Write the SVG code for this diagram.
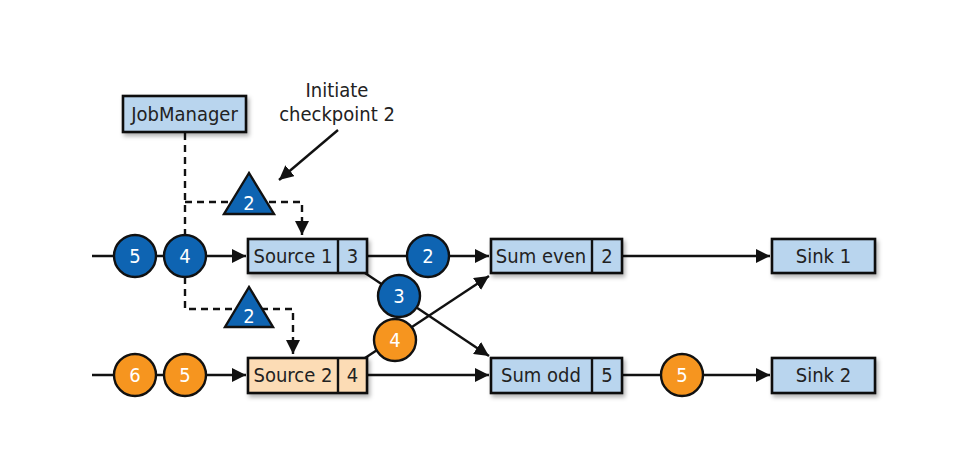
<svg xmlns="http://www.w3.org/2000/svg" width="962" height="457" viewBox="0 0 962 457">
<style>
.box{stroke:#111;stroke-width:2.6}
.blue{fill:#b9d5ee}
.peach{fill:#fcdcb5}
.t{font-family:"DejaVu Sans Condensed","Liberation Sans",sans-serif;font-size:20px;fill:#222;text-anchor:middle}
.ct{font-family:"DejaVu Sans Condensed","Liberation Sans",sans-serif;font-size:20px;fill:#fff;text-anchor:middle}
.cb{fill:#0e64b2;stroke:#111;stroke-width:2.4}
.co{fill:#f6951f;stroke:#111;stroke-width:2.4}
.ln{stroke:#111;stroke-width:2.4;fill:none}
.dash{stroke:#111;stroke-width:2.4;fill:none;stroke-dasharray:7 5}
</style>
<defs>
<marker id="ah" viewBox="0 0 10 10" refX="10" refY="5" markerWidth="6" markerHeight="6" markerUnits="strokeWidth" orient="auto">
<path d="M0,0 L10,5 L0,10 Z" fill="#111"/>
</marker>
<filter id="sh" x="-10%" y="-20%" width="125%" height="150%">
<feDropShadow dx="2" dy="3" stdDeviation="2" flood-color="#000" flood-opacity="0.3"/>
</filter>
</defs>
<rect width="962" height="457" fill="#fff"/>

<g id="connectors">
<path class="dash" d="M185,133 V309 H293 V354" marker-end="url(#ah)"/>
<path class="dash" d="M185,202 H302 V235" marker-end="url(#ah)"/>
<line class="ln" x1="338" y1="130" x2="279" y2="180" marker-end="url(#ah)"/>
<line class="ln" x1="92" y1="256" x2="246" y2="256" marker-end="url(#ah)"/>
<line class="ln" x1="92" y1="375" x2="246" y2="375" marker-end="url(#ah)"/>
<line class="ln" x1="367" y1="256" x2="489" y2="256" marker-end="url(#ah)"/>
<line class="ln" x1="367" y1="375" x2="489" y2="375" marker-end="url(#ah)"/>
<line class="ln" x1="365" y1="273" x2="489" y2="356" marker-end="url(#ah)"/>
<line class="ln" x1="365" y1="358" x2="489" y2="276" marker-end="url(#ah)"/>
<line class="ln" x1="622" y1="256" x2="770" y2="256" marker-end="url(#ah)"/>
<line class="ln" x1="622" y1="375" x2="770" y2="375" marker-end="url(#ah)"/>
</g>

<g id="label-initiate">
<text class="t" x="337" y="97">Initiate</text>
<text class="t" x="337" y="121">checkpoint 2</text>
</g>

<g id="jobmanager">
<rect class="box blue" x="123" y="96" width="123" height="36" filter="url(#sh)"/>
<text class="t" x="184.5" y="121">JobManager</text>
</g>

<g id="barrier-top">
<polygon points="249,173 224,214 274,214" fill="#0e64b2" stroke="#111" stroke-width="2.4"/>
<text class="ct" x="249" y="210">2</text>
</g>
<g id="barrier-bottom">
<polygon points="249,287 225,327 273,327" fill="#0e64b2" stroke="#111" stroke-width="2.4"/>
<text class="ct" x="249" y="323">2</text>
</g>

<g id="rec-b5"><circle class="cb" cx="135" cy="256" r="21"/><text class="ct" x="135" y="263">5</text></g>
<g id="rec-b4"><circle class="cb" cx="185" cy="256" r="21"/><text class="ct" x="185" y="263">4</text></g>
<g id="rec-o6"><circle class="co" cx="135" cy="375" r="21"/><text class="ct" x="135" y="382">6</text></g>
<g id="rec-o5"><circle class="co" cx="185" cy="375" r="21"/><text class="ct" x="185" y="382">5</text></g>

<g id="source1">
<rect class="box blue" x="248" y="239" width="119" height="34" filter="url(#sh)"/>
<line class="ln" x1="338" y1="239" x2="338" y2="273"/>
<text class="t" x="293" y="263">Source 1</text>
<text class="t" x="352.5" y="263">3</text>
</g>
<g id="source2">
<rect class="box peach" x="248" y="358" width="119" height="35" filter="url(#sh)"/>
<line class="ln" x1="338" y1="358" x2="338" y2="393"/>
<text class="t" x="293" y="382">Source 2</text>
<text class="t" x="352.5" y="382">4</text>
</g>

<g id="rec-b2"><circle class="cb" cx="428" cy="256" r="21"/><text class="ct" x="428" y="263">2</text></g>
<g id="rec-b3"><circle class="cb" cx="399" cy="296" r="21"/><text class="ct" x="399" y="303">3</text></g>
<g id="rec-o4"><circle class="co" cx="395" cy="340" r="21"/><text class="ct" x="395" y="347">4</text></g>

<g id="sumeven">
<rect class="box blue" x="491" y="239" width="131" height="34" filter="url(#sh)"/>
<line class="ln" x1="592" y1="239" x2="592" y2="273"/>
<text class="t" x="541" y="263">Sum even</text>
<text class="t" x="607" y="263">2</text>
</g>
<g id="sumodd">
<rect class="box blue" x="491" y="358" width="131" height="35" filter="url(#sh)"/>
<line class="ln" x1="592" y1="358" x2="592" y2="393"/>
<text class="t" x="541" y="382">Sum odd</text>
<text class="t" x="607" y="382">5</text>
</g>

<g id="rec-o5b"><circle class="co" cx="682" cy="375" r="21"/><text class="ct" x="682" y="382">5</text></g>

<g id="sink1">
<rect class="box blue" x="772" y="239" width="103" height="34" filter="url(#sh)"/>
<text class="t" x="823.5" y="263">Sink 1</text>
</g>
<g id="sink2">
<rect class="box blue" x="772" y="358" width="103" height="35" filter="url(#sh)"/>
<text class="t" x="823.5" y="382">Sink 2</text>
</g>
</svg>
